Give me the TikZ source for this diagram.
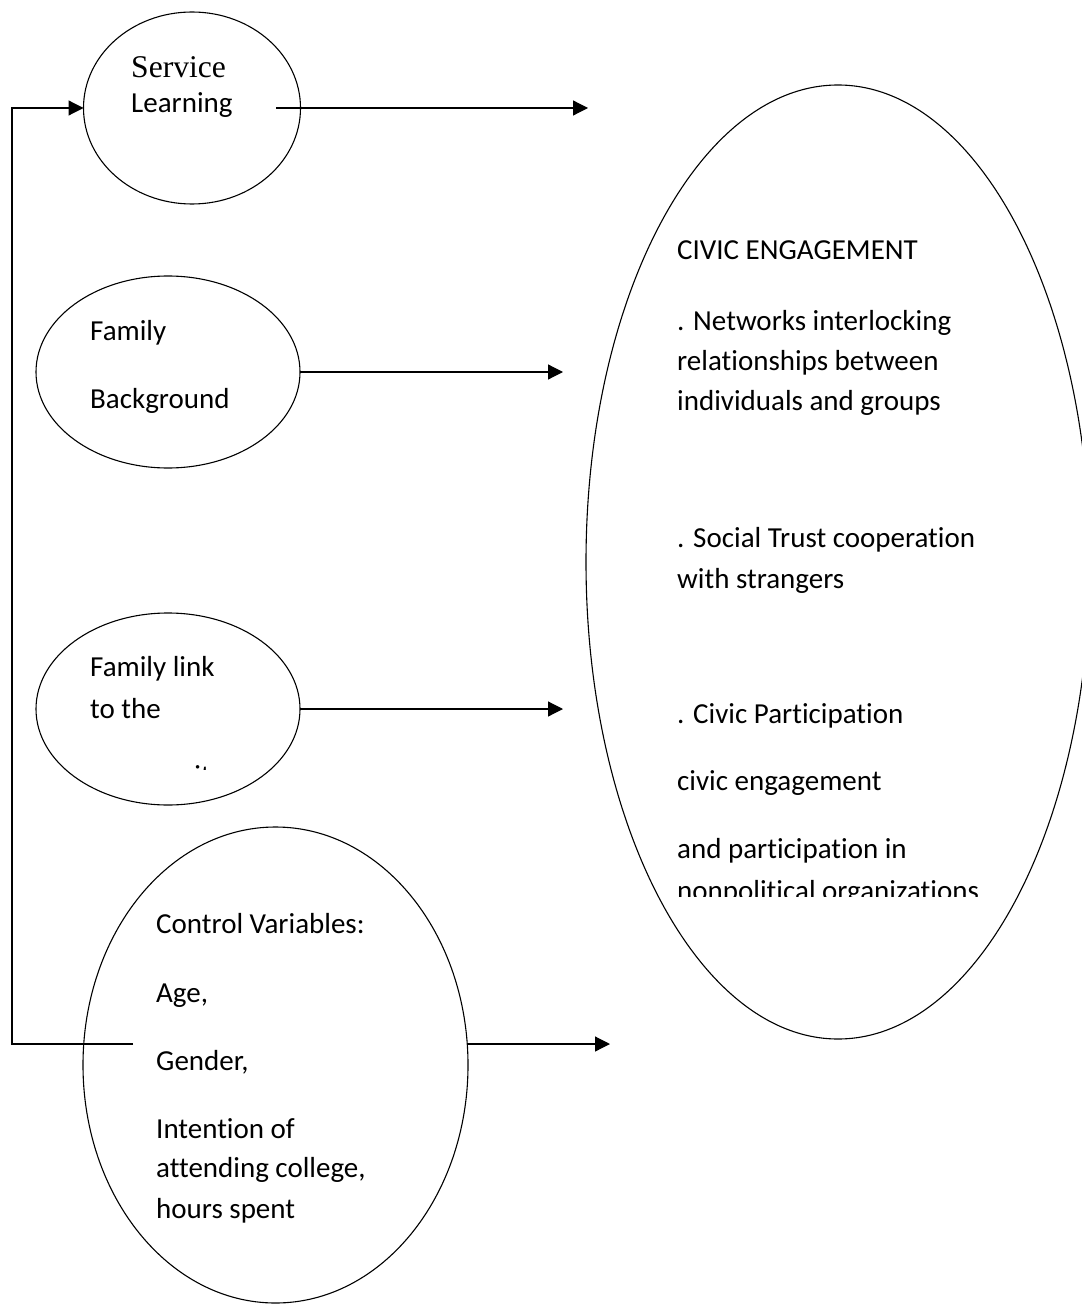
\documentclass[tikz,border=0pt]{standalone}
\usepackage{fontspec}
\setmainfont{Carlito}[Ligatures=CommonOff]
\newfontfamily\serifface{Liberation Serif}
\usetikzlibrary{shapes.geometric,arrows.meta}
\tikzset{
  bubble/.style={draw, ellipse, line width=1.1pt, inner sep=0pt, outer sep=0pt},
  lbl/.style={anchor=base west, inner sep=0pt, font=\fontsize{29}{35}\selectfont},
  link/.style={line width=1.2pt, -{Triangle[length=15pt,width=15pt]}}
}
\begin{document}
\begin{tikzpicture}[x=1pt,y=-1pt]
\useasboundingbox (0,0) rectangle (1081,1305);
% the bubbles
\node[bubble, minimum width=217pt, minimum height=192pt] (service) at (192,108) {};
\node[bubble, minimum width=264pt, minimum height=192pt] (family) at (168,372) {};
\node[bubble, minimum width=264pt, minimum height=192pt] (link) at (168,709) {};
\node[bubble, minimum width=385pt, minimum height=476pt] (control) at (275.5,1065) {};
\node[bubble, minimum width=504pt, minimum height=954pt] (civic) at (838,562) {};
% texts
\node[lbl, font=\serifface\fontsize{31.6}{38}\selectfont] (svc1) at (131,78) {Service};
\node[lbl] (svc2) at (131,113) {Learning};
\node[lbl] (fam1) at (90,340) {Family};
\node[lbl] (fam2) at (90,408) {Background};
\node[lbl] (lnk1) at (90,676) {Family link};
\node[lbl] (lnk2) at (90,718) {to the};
\begin{scope}
  \clip (60,600) rectangle (300,769);
  \node[lbl] (lnk3) at (90,785) {community};
\end{scope}
\foreach \txt/\yy in {{Control Variables:}/933, {Age,}/1002, {Gender,}/1070,
    Intention of/1138, {attending college,}/1177, hours spent/1218}
  \node[lbl] (ctl\yy) at (156,\yy) {\txt};
\foreach \txt/\yy in {CIVIC ENGAGEMENT/260, . Networks interlocking/330,
    relationships between/370, individuals and groups/410,
    . Social Trust cooperation/547, with strangers/588,
    . Civic Participation/723, civic engagement/790, and participation in/858}
  \node[lbl] (civ\yy) at (677,\yy) {\txt};
\begin{scope}
  \clip (600,860) rectangle (1081,896);
  \node[lbl] (civ900) at (677,900) {nonpolitical organizations};
\end{scope}
% arrows
\coordinate (svcout) at (276,108);
\coordinate (svcend) at (588,108);
\coordinate (famend) at (563,372);
\coordinate (lnkend) at (563,709);
\coordinate (ctlend) at (610,1044);
\coordinate (ctlin) at (133,1044);
\coordinate (corner) at (12,1044);
\draw[link] (svcout) -- (svcend);
\draw[link] (family.east) -- (famend);
\draw[link] (link.east) -- (lnkend);
\draw[link] (control.east |- ctlend) -- (ctlend);
\draw[link] (ctlin) -- (corner) |- (service.west);
\end{tikzpicture}
\end{document}
